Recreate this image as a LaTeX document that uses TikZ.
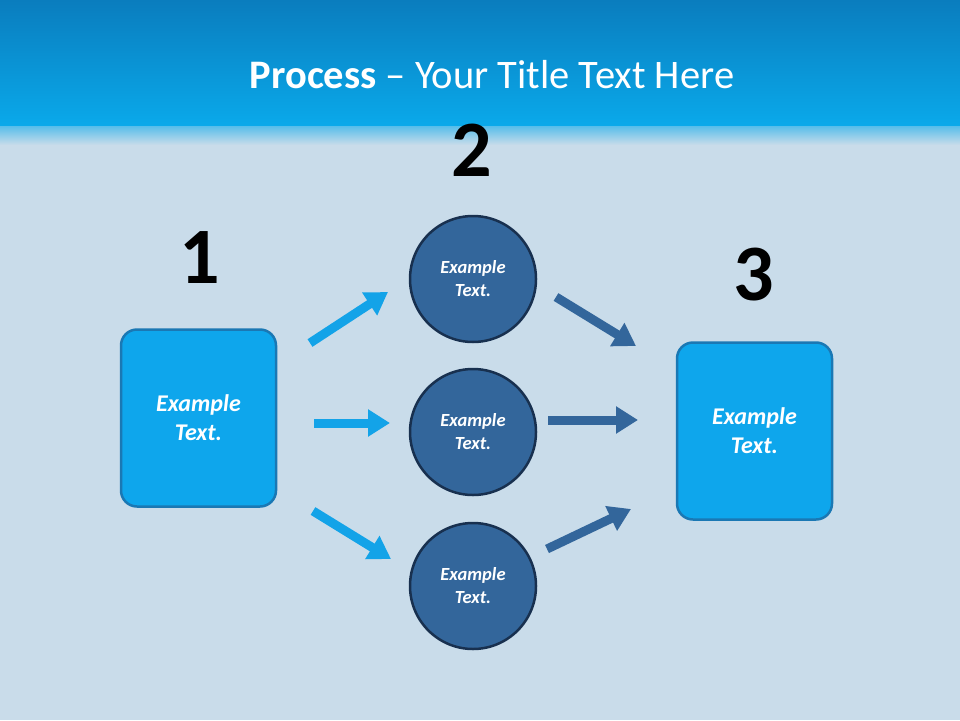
\documentclass[tikz,border=0pt]{standalone}
\usepackage{fontspec}
\setmainfont{Carlito}
\usetikzlibrary{arrows.meta}
\definecolor{bg}{HTML}{C9DCEA}
\definecolor{bandtop}{HTML}{0A7DBE}
\definecolor{bandbot}{HTML}{0AA9EA}
\definecolor{boxfill}{HTML}{0EA6EC}
\definecolor{boxline}{HTML}{1A78B4}
\definecolor{circfill}{HTML}{33669B}
\definecolor{circline}{HTML}{18304F}
\definecolor{larrow}{HTML}{13A3E8}
\definecolor{darrow}{HTML}{33669B}
\begin{document}
\begin{tikzpicture}[x=1pt,y=-1pt,
  sq/.style={draw=boxline,line width=2.5pt,fill=boxfill,rounded corners=16pt,minimum width=155pt,minimum height=177pt,text=white,font=\fontsize{24}{29}\selectfont\bfseries\itshape,align=center},
  circ/.style={circle,draw=circline,line width=2.5pt,fill=circfill,minimum size=126pt,text=white,font=\fontsize{18.5}{23}\selectfont\bfseries\itshape,align=center},
  num/.style={font=\fontsize{80}{88}\selectfont\bfseries},
  la/.style={larrow,line width=9pt,-{Triangle[length=22pt,width=26pt]}},
  da/.style={darrow,line width=9pt,-{Triangle[length=22pt,width=26pt]}}]
\useasboundingbox (0,0) rectangle (960,720);
\fill[bg] (0,0) rectangle (960,720);
\shade[top color=bandtop,bottom color=bandbot] (0,0) rectangle (960,126);
\shade[top color=bandbot!60!bg,bottom color=bg] (0,126) rectangle (960,145);
\node[text=white,font=\fontsize{40.5}{46}\selectfont] (title) at (492,75) {\textbf{Process} -- Your Title Text Here};
\node[num] (n1) at (200,258) {1};
\node[num] (n2) at (472,150) {2};
\node[num] (n3) at (754,275) {3};
\node[sq] (b1) at (198.5,418) {Example\\Text.};
\node[sq] (b3) at (754.5,431) {Example\\Text.};
\node[circ] (c1) at (473,279) {Example\\Text.};
\node[circ] (c2) at (473,432) {Example\\Text.};
\node[circ] (c3) at (473,586) {Example\\Text.};
\coordinate (a1s) at (310,343); \coordinate (a1e) at (388,292);
\coordinate (a2s) at (314,423); \coordinate (a2e) at (390,423);
\coordinate (a3s) at (313,511); \coordinate (a3e) at (391,559);
\coordinate (d1s) at (556,297); \coordinate (d1e) at (636,346);
\coordinate (d2s) at (548,420); \coordinate (d2e) at (638,420);
\coordinate (d3s) at (547,549); \coordinate (d3e) at (631,509);
\draw[la] (a1s) -- (a1e);
\draw[la] (a2s) -- (a2e);
\draw[la] (a3s) -- (a3e);
\draw[da] (d1s) -- (d1e);
\draw[da] (d2s) -- (d2e);
\draw[da] (d3s) -- (d3e);
\end{tikzpicture}
\end{document}
